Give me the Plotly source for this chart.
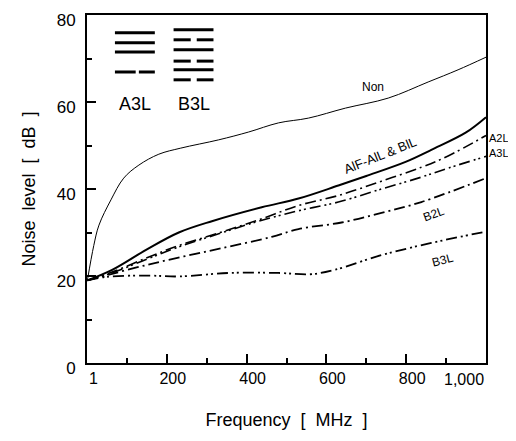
import plotly.graph_objects as go

# ---- data ----
freq_non = [1, 17, 30, 60, 92, 130, 180, 235, 330, 405, 480, 555, 648, 755, 855, 930, 1000]
db_non = [19, 27, 31.7, 37.5, 42.5, 45.5, 48, 49.4, 51.3, 53.1, 55.2, 56.3, 58.6, 60.9, 64.6, 67.4, 70.3]

freq_a1 = [1, 63, 148, 230, 313, 438, 530, 630, 700, 800, 863, 950, 1000]
db_a1 = [19, 21.4, 26, 30, 32.6, 35.8, 37.8, 40.8, 43, 46.3, 49, 53, 56.5]

freq_a2 = [1, 63, 148, 230, 330, 430, 530, 630, 738, 838, 905, 1000]
db_a2 = [19, 20.9, 24.1, 27, 29.9, 32.9, 36.2, 38.5, 41.8, 45, 47.6, 52.3]

freq_a3 = [1, 63, 148, 230, 330, 430, 530, 630, 738, 830, 905, 1000]
db_a3 = [19, 20.7, 23.8, 26.7, 29.7, 32.6, 35, 37, 40, 42.5, 44.8, 47.5]

freq_b2 = [1, 63, 148, 238, 338, 463, 530, 638, 738, 838, 1000]
db_b2 = [19, 20.5, 22.5, 24.4, 26.4, 29, 30.8, 32.3, 34.5, 37, 42.5]

freq_b3 = [1, 50, 150, 230, 355, 480, 560, 620, 738, 863, 1000]
db_b3 = [19, 19.8, 20.1, 19.9, 20.7, 20.7, 20.4, 21.4, 24.8, 27.6, 30.2]

x_tickvals = [1, 200, 400, 600, 800, 1000]
x_ticktext = ["1", "200", "400", "600", "800", ""]
x_last_label = "1,000"
y_tickvals = [0, 20, 40, 60, 80]

FONT = "Liberation Sans, Arial, sans-serif"
DASHDOT = "11px,4px,2px,4px"
DASHDOTDOT = "11px,4px,2px,3px,2px,4px"

fig = go.Figure()
fig.add_trace(go.Scatter(x=freq_non, y=db_non, mode="lines", line=dict(color="black", width=1, shape="spline")))
fig.add_trace(go.Scatter(x=freq_a1, y=db_a1, mode="lines", line=dict(color="black", width=2, shape="spline")))
fig.add_trace(go.Scatter(x=freq_a2, y=db_a2, mode="lines", line=dict(color="black", width=1.6, dash=DASHDOT, shape="spline")))
fig.add_trace(go.Scatter(x=freq_a3, y=db_a3, mode="lines", line=dict(color="black", width=1.6, dash=DASHDOTDOT, shape="spline")))
fig.add_trace(go.Scatter(x=freq_b2, y=db_b2, mode="lines", line=dict(color="black", width=1.8, dash=DASHDOT, shape="spline")))
fig.add_trace(go.Scatter(x=freq_b3, y=db_b3, mode="lines", line=dict(color="black", width=1.8, dash=DASHDOTDOT, shape="spline")))

# inset symbol (A3L / B3L cable layouts)
def bar(x0, x1, y):
    fig.add_shape(type="line", x0=x0, x1=x1, y0=y, y1=y, xref="x", yref="y",
                  line=dict(color="black", width=3))

for y in [75.9, 73.6, 71.5]:
    bar(70, 170, y)
bar(70, 122, 66.9); bar(130, 170, 66.9)
for y in [76.6, 72.0, 67.4]:
    bar(217, 317, y)
for y in [74.3, 69.4, 65.1]:
    bar(217, 260, y); bar(275, 317, y)

ann = dict(showarrow=False, font=dict(family=FONT, size=12, color="black"))
small = dict(showarrow=False, font=dict(family=FONT, size=11, color="black"))
big = dict(family=FONT, size=18, color="black")
fig.add_annotation(x=120, y=59.5, text="A3L", showarrow=False, font=big)
fig.add_annotation(x=268, y=59.5, text="B3L", showarrow=False, font=big)
fig.add_annotation(x=718, y=63.5, text="Non", **ann)
fig.add_annotation(x=735, y=47.6, text="AlF-AlL & BlL", textangle=-22,
                   showarrow=False, font=dict(family=FONT, size=13, color="black"))
fig.add_annotation(x=1.003, xref="paper", xanchor="left", y=51.8, text="A2L", **small)
fig.add_annotation(x=1.003, xref="paper", xanchor="left", y=48.3, text="A3L", **small)
fig.add_annotation(x=870, y=34.2, text="B2L", textangle=-20, **ann)
fig.add_annotation(x=893, y=23.6, text="B3L", textangle=-15, **ann)
# last x tick label, kept inside the page like the reference
fig.add_annotation(x=x_tickvals[-1], y=0, yref="paper", xanchor="right", yanchor="top",
                   yshift=-6, text=x_last_label, showarrow=False,
                   font=dict(family=FONT, size=16, color="black"))

fig.update_layout(
    width=508, height=433,
    margin=dict(l=79, r=30, t=7, b=78, autoexpand=False),
    paper_bgcolor="white", plot_bgcolor="white",
    showlegend=False,
    font=dict(family=FONT, size=16, color="black"),
    xaxis=dict(range=[0, 1000], tickvals=x_tickvals, ticktext=x_ticktext,
               ticks="inside", ticklen=9, tickwidth=1.5, tickcolor="black",
               minor=dict(ticks="inside", ticklen=5, dtick=100, tick0=0, tickcolor="black"),
               showgrid=False, zeroline=False, showline=True, linecolor="black", linewidth=2,
               mirror=True, tickfont=dict(size=16), ticklabelshift=6,
               automargin=False,
               title=dict(text="Frequency  [  MHz  ]", font=dict(size=18), standoff=27)),
    yaxis=dict(range=[0, 80], tickvals=y_tickvals,
               ticks="inside", ticklen=9, tickwidth=1.5, tickcolor="black",
               minor=dict(ticks="inside", ticklen=5, dtick=10, tick0=0, tickcolor="black"),
               showgrid=False, zeroline=False, showline=True, linecolor="black", linewidth=2,
               mirror=True, tickfont=dict(size=17), ticklabelstandoff=6, ticklabelshift=5,
               ticklabeloverflow="allow", automargin=False,
               title=dict(text="Noise  level  [  dB  ]", font=dict(size=18), standoff=16)),
)

fig.write_html("out.html")
